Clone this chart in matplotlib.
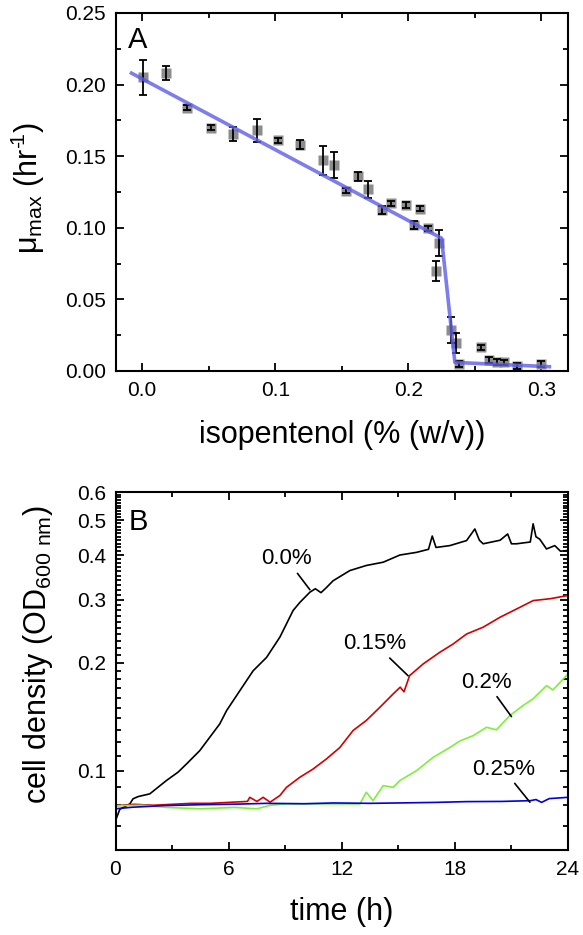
import numpy as np
import matplotlib
matplotlib.use("Agg")
import matplotlib.pyplot as plt
from matplotlib.ticker import MultipleLocator, FixedLocator, FixedFormatter, NullFormatter

plt.rcParams['font.family'] = ['Liberation Sans', 'DejaVu Sans']
plt.rcParams['mathtext.default'] = 'regular'

# panel A: max growth rate vs isopentenol
conc = [0.001, 0.018, 0.034, 0.052, 0.068, 0.086, 0.102, 0.119, 0.136, 0.144,
        0.153, 0.162, 0.170, 0.180, 0.187, 0.198, 0.204, 0.209, 0.215, 0.2206,
        0.223, 0.232, 0.2355, 0.238, 0.2545, 0.261, 0.267, 0.272, 0.282, 0.2997]
mu_max = [0.205, 0.208, 0.184, 0.170, 0.1655, 0.168, 0.161, 0.158, 0.147, 0.144,
          0.126, 0.136, 0.127, 0.1124, 0.117, 0.1157, 0.102, 0.1134, 0.0996, 0.070,
          0.0896, 0.0286, 0.0193, 0.0047, 0.0165, 0.0077, 0.0065, 0.006, 0.0037, 0.0047]
mu_err = [0.012, 0.005, 0.002, 0.002, 0.005, 0.008, 0.002, 0.003, 0.010, 0.009,
          0.002, 0.003, 0.006, 0.003, 0.002, 0.002, 0.003, 0.002, 0.002, 0.007,
          0.009, 0.009, 0.007, 0.002, 0.002, 0.002, 0.002, 0.002, 0.002, 0.002]
fit_x = [-0.008, 0.225, 0.235, 0.306]
fit_y = [0.208, 0.0927, 0.006, 0.003]

# panel B: growth curves
black_t = [0, 0.23, 0.76, 0.93, 1.2, 1.82, 2.7, 3.32, 3.77, 4.47, 5.0, 5.53, 5.89, 6.59,
           7.3, 8.01, 8.72, 9.42, 9.78, 10.31, 10.6, 10.9, 11.2, 11.54, 12.43, 13.3, 14.2,
           15.08, 15.97, 16.6, 16.8, 17.0, 17.73, 18.62, 19.06, 19.3, 19.5, 20.4, 20.8,
           21.0, 21.27, 22.0, 22.15, 22.3, 22.5, 22.86, 23.3, 23.6, 24.0]
black_od = [0.0725, 0.078, 0.0807, 0.0834, 0.0846, 0.0861, 0.0938, 0.099, 0.1044, 0.1137,
            0.1239, 0.135, 0.147, 0.167, 0.19, 0.207, 0.236, 0.280, 0.295, 0.315, 0.322,
            0.314, 0.325, 0.339, 0.362, 0.374, 0.382, 0.40, 0.407, 0.415, 0.452, 0.42,
            0.425, 0.439, 0.473, 0.44, 0.43, 0.44, 0.458, 0.43, 0.43, 0.435, 0.489, 0.45,
            0.443, 0.416, 0.425, 0.41, 0.412]

red_t = [0, 1, 2, 3, 4, 5, 6, 7.0, 7.12, 7.5, 7.83, 8.2, 8.72, 9.07, 9.78, 10.48, 11.19,
         11.9, 12.6, 13.3, 14.02, 14.73, 15.1, 15.3, 15.6, 16.32, 17.2, 17.9, 18.62, 19.5,
         20.39, 21.45, 22.15, 23.04, 23.5, 24.0]
red_od = [0.0798, 0.0805, 0.080, 0.0805, 0.081, 0.081, 0.0815, 0.082, 0.0842, 0.082,
          0.0842, 0.0816, 0.0852, 0.0898, 0.0958, 0.101, 0.1078, 0.116, 0.1294, 0.138,
          0.1502, 0.1638, 0.171, 0.166, 0.1842, 0.1986, 0.214, 0.2256, 0.2407, 0.2515,
          0.268, 0.2858, 0.2984, 0.302, 0.305, 0.3085]

green_t = [0, 1.5, 2.7, 4.5, 6.3, 7.5, 8.2, 9.07, 11.55, 12.96, 13.3, 13.66, 14.2, 14.73,
           15.08, 15.97, 16.85, 17.73, 18.27, 18.97, 19.68, 20.2, 20.92, 21.62, 22.15,
           22.86, 23.2, 24.0]
green_od = [0.0798, 0.080, 0.0789, 0.0782, 0.0789, 0.0782, 0.080, 0.0807, 0.0807, 0.0807,
            0.087, 0.0824, 0.0908, 0.0898, 0.0938, 0.1, 0.1089, 0.116, 0.121, 0.1252,
            0.1321, 0.130, 0.1425, 0.152, 0.1587, 0.1727, 0.168, 0.1862]

blue_t = [0, 0.9, 2.5, 4.5, 6.5, 8.0, 10.0, 11.55, 13.5, 15.0, 17.0, 18.6, 20.5, 22.0,
          22.3, 22.6, 23.0, 24.0]
blue_od = [0.0782, 0.079, 0.0798, 0.0803, 0.0806, 0.081, 0.0808, 0.0812, 0.081, 0.0812,
           0.0815, 0.0819, 0.082, 0.0824, 0.083, 0.0815, 0.0835, 0.0842]

od_ticks = [0.1, 0.2, 0.3, 0.4, 0.5, 0.6]
od_labels = ["0.1", "0.2", "0.3", "0.4", "0.5", "0.6"]
time_ticks = [0, 6, 12, 18, 24]

W, H = 583, 935
fig = plt.figure(figsize=(W / 100, H / 100), dpi=100)

def px_axes(l, t, r, b):
    return fig.add_axes([l / W, 1 - b / H, (r - l) / W, (b - t) / H])

def style_axes(ax):
    for s in ax.spines.values():
        s.set_linewidth(1.5)
    ax.tick_params(which="both", direction="in", top=True, right=True, labelsize=15, width=1.3)
    ax.tick_params(which="major", length=6, pad=7)
    ax.tick_params(which="minor", length=3.5)

# ---- panel A
ax1 = px_axes(115.5, 13, 568, 371)
ax1.plot(conc, mu_max, "s", color="#8c8c8c", ms=6.5, mec="none", zorder=2)
ax1.errorbar(conc, mu_max, yerr=mu_err, fmt="none", ecolor="black", elinewidth=1.3,
             capsize=3, capthick=1.3, zorder=3)
ax1.plot(fit_x, fit_y, color="#5c5ce8", lw=2.6, alpha=0.8, zorder=4)
ax1.set_xlim(-0.02, 0.32)
ax1.set_ylim(0, 0.25)
ax1.xaxis.set_major_locator(MultipleLocator(0.1))
ax1.xaxis.set_minor_locator(MultipleLocator(0.05))
ax1.yaxis.set_major_locator(MultipleLocator(0.05))
ax1.yaxis.set_minor_locator(MultipleLocator(0.025))
ax1.xaxis.set_major_formatter(plt.FuncFormatter(lambda v, p: f"{v:.1f}"))
ax1.yaxis.set_major_formatter(plt.FuncFormatter(lambda v, p: f"{v:.2f}"))
style_axes(ax1)
ax1.text(0.028, 0.965, "A", transform=ax1.transAxes, fontsize=21, ha="left", va="top")
fig.text(28 / W, 1 - 188 / H, "μ$_{max}$ (hr$^{\u2010\\!1}$)", rotation=90, fontsize=22,
         ha="center", va="center")
fig.text(342 / W, 1 - 435 / H, "isopentenol (% (w/v))", fontsize=22, ha="center", va="center")

# ---- panel B
ax2 = px_axes(115.5, 492, 568, 850)
ax2.plot(black_t, black_od, color="black", lw=1.2)
ax2.plot(red_t, red_od, color="#d40000", lw=1.2)
ax2.plot(green_t, green_od, color="#7ef03c", lw=1.2)
ax2.plot(blue_t, blue_od, color="#0000e0", lw=1.2)
ax2.set_yscale("log")
ax2.set_xlim(0, 24)
ax2.set_ylim(0.06, 0.6)
ax2.xaxis.set_major_locator(FixedLocator(time_ticks))
ax2.xaxis.set_minor_locator(MultipleLocator(3))
ax2.yaxis.set_major_locator(FixedLocator(od_ticks))
ax2.yaxis.set_major_formatter(FixedFormatter(od_labels))
ax2.yaxis.set_minor_locator(FixedLocator(np.arange(0.06, 0.6, 0.01)))
ax2.yaxis.set_minor_formatter(NullFormatter())
style_axes(ax2)
ax2.text(0.028, 0.955, "B", transform=ax2.transAxes, fontsize=21, ha="left", va="top")

lead = dict(arrowstyle="-", color="black", lw=1.2, shrinkA=1, shrinkB=0)
ax2.annotate("0.0%", xy=(10.31, 0.32), xytext=(9.07, 0.39), fontsize=16,
             ha="center", va="center", arrowprops=lead)
ax2.annotate("0.15%", xy=(15.52, 0.184), xytext=(13.76, 0.226), fontsize=16,
             ha="center", va="center", arrowprops=lead)
ax2.annotate("0.2%", xy=(21.0, 0.1415), xytext=(19.68, 0.1765), fontsize=16,
             ha="center", va="center", arrowprops=lead)
ax2.annotate("0.25%", xy=(21.98, 0.0816), xytext=(20.56, 0.101), fontsize=16,
             ha="center", va="center", arrowprops=lead)

fig.text(38 / W, 1 - 655 / H, r"cell density (OD$_{600\ nm}$)", rotation=90, fontsize=22,
         ha="center", va="center")
fig.text(342 / W, 1 - 912 / H, "time (h)", fontsize=22, ha="center", va="center")

fig.savefig("out.png", dpi=100)
